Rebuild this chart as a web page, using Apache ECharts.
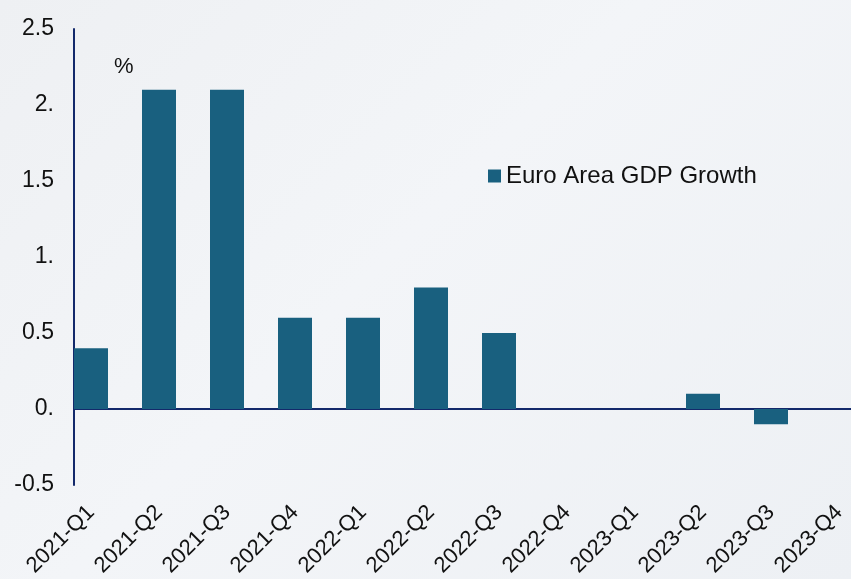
<!DOCTYPE html>
<html>
<head>
<meta charset="utf-8">
<script src="https://cdn.jsdelivr.net/npm/echarts@6/dist/echarts.min.js"></script>
<style>
  html, body { margin: 0; padding: 0; }
  body { background: linear-gradient(135deg, #eef0f3 0%, #f3f5f8 45%, #edf0f4 100%); }
  #chart { width: 851px; height: 579px; }
</style>
</head>
<body>
<div id="chart"></div>
<script>
// Quarterly euro area GDP growth, %
const quarters = ['2021-Q1', '2021-Q2', '2021-Q3', '2021-Q4', '2022-Q1', '2022-Q2',
                  '2022-Q3', '2022-Q4', '2023-Q1', '2023-Q2', '2023-Q3', '2023-Q4'];
const gdpGrowth = [0.4, 2.1, 2.1, 0.6, 0.6, 0.8, 0.5, 0, 0, 0.1, -0.1, 0];
const seriesName = 'Euro Area GDP Growth';
const yTicks = { min: -0.5, max: 2.5, step: 0.5 };

const barColor = '#19607f';
const axisColor = '#13296b';
const font = 'Liberation Sans, Arial, sans-serif';
const labelFmt = v => {
  const s = Number(v.toFixed(1)).toString();
  return s.includes('.') ? s : s + '.';
};

const chart = echarts.init(document.getElementById('chart'));
chart.setOption({
  animation: false,
  textStyle: { fontFamily: font },
  grid: [
    // bars: 12 quarter bands, the first one half hidden left of the axis
    { left: 57, top: 29, width: 816, bottom: 94, outerBoundsMode: 'none', containLabel: false },
    // axis frame: vertical axis and the zero line
    { left: 74, top: 29, right: 0, bottom: 94, outerBoundsMode: 'none', containLabel: false }
  ],
  legend: {
    data: [seriesName],
    left: 483, top: 159,
    itemWidth: 13, itemHeight: 13,
    icon: 'rect',
    textStyle: { fontSize: 24, color: '#111', fontFamily: font }
  },
  graphic: [{
    type: 'text', left: 114, top: 56,
    style: { text: '%', fontSize: 22, fill: '#111', fontFamily: font }
  }],
  xAxis: [{
    gridIndex: 0,
    type: 'category',
    data: quarters,
    axisLine: { show: false },
    axisTick: { show: false },
    axisLabel: {
      rotate: 45, fontSize: 22, color: '#111', margin: 24, interval: 0,
      fontFamily: font
    }
  }, {
    gridIndex: 1,
    type: 'value', min: 0, max: 1,
    axisLine: { show: true, onZero: true, lineStyle: { color: axisColor, width: 2 } },
    axisTick: { show: false },
    axisLabel: { show: false },
    splitLine: { show: false }
  }],
  yAxis: [{
    gridIndex: 0,
    type: 'value',
    min: yTicks.min, max: yTicks.max, interval: yTicks.step,
    show: false
  }, {
    gridIndex: 1,
    type: 'value',
    min: yTicks.min, max: yTicks.max, interval: yTicks.step,
    splitLine: { show: false },
    axisTick: { show: false },
    axisLine: { show: true, onZero: false, lineStyle: { color: axisColor, width: 2 } },
    axisLabel: {
      fontSize: 23, color: '#111', margin: 20, fontFamily: font,
      formatter: labelFmt
    }
  }],
  series: [{
    name: seriesName,
    type: 'bar',
    xAxisIndex: 0, yAxisIndex: 0,
    data: gdpGrowth,
    barWidth: 34,
    itemStyle: { color: barColor }
  }]
});
</script>
</body>
</html>
